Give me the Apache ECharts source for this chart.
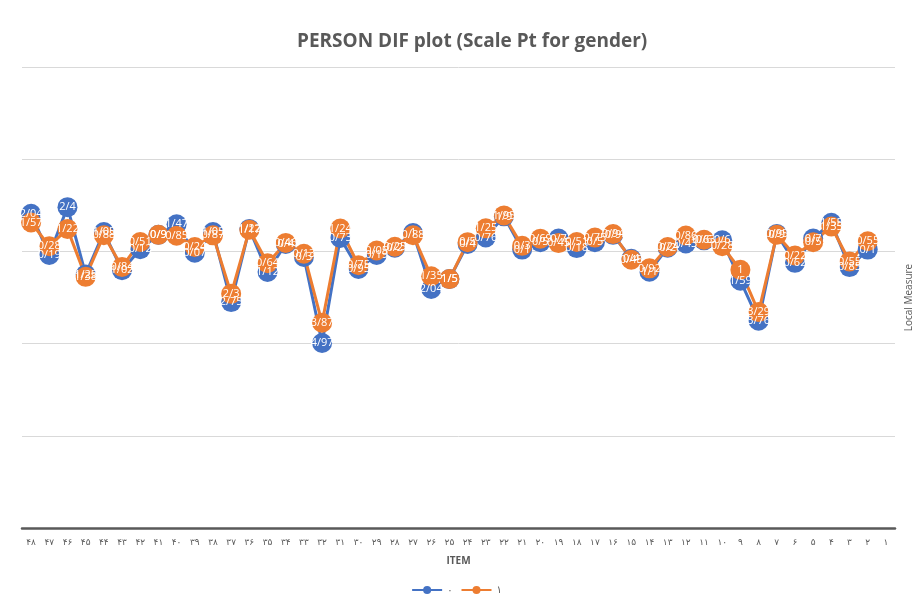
<!DOCTYPE html>
<html lang="en">
<head>
    <meta charset="UTF-8">
    <title>PERSON DIF plot</title>
    <script src="https://cdn.jsdelivr.net/npm/echarts@6/dist/echarts.min.js"></script>
    <style>
        html, body {
            margin: 0;
            height: 100%;
            background: #fff;
        }
    </style>
</head>
<body>
<div id="main" style="width: 913px;height: 604px;"></div>
<script>
    // items 48 -> 1 (Persian digits)
    var items = ['۴۸', '۴۷', '۴۶', '۴۵', '۴۴', '۴۳', '۴۲', '۴۱', '۴۰', '۳۹', '۳۸', '۳۷', '۳۶', '۳۵', '۳۴', '۳۳',
        '۳۲', '۳۱', '۳۰', '۲۹', '۲۸', '۲۷', '۲۶', '۲۵', '۲۴', '۲۳', '۲۲', '۲۱', '۲۰', '۱۹', '۱۸', '۱۷',
        '۱۶', '۱۵', '۱۴', '۱۳', '۱۲', '۱۱', '۱۰', '۹', '۸', '۷', '۶', '۵', '۴', '۳', '۲', '۱'];

    // group 0
    var group0 = [2.04, -0.19, 2.4, -1.25, 1.05, -1.02, 0.12, 0.9, 1.47, -0.07, 1.05, -2.75, 1.22, -1.12, 0.4, -0.3,
        -4.97, 0.73, -0.95, -0.19, 0.2, 1.0, -2.04, -1.5, 0.4, 0.76, 1.9, 0.1, 0.5, 0.7, 0.18, 0.5,
        0.9, -0.4, -1.1, 0.2, 0.43, 0.6, 0.6, -1.59, -3.76, 0.95, -0.62, 0.7, 1.55, -0.85, 0.1, null];

    // group 1
    var group1 = [1.57, 0.28, 1.22, -1.38, 0.88, -0.84, 0.51, 0.9, 0.85, 0.24, 0.87, -2.3, 1.17, -0.64, 0.46, -0.13,
        -3.87, 1.24, -0.75, 0.05, 0.25, 0.88, -1.35, -1.5, 0.5, 1.25, 1.95, 0.3, 0.69, 0.45, 0.51, 0.75,
        0.94, -0.45, -0.92, 0.24, 0.86, 0.63, 0.28, -1, -3.29, 0.9, -0.22, 0.5, 1.35, -0.55, 0.55, null];

    // Excel-style label: "/" as decimal separator
    function fmt(p) {
        return String(Math.abs(p.value)).replace('.', '/');
    }

    var myChart = echarts.init(document.getElementById('main'));

    var option = {
        animation: false,
        title: {
            text: 'PERSON DIF plot (Scale Pt for gender)',
            left: 292,
            top: 27,
            textStyle: {
                fontFamily: 'Open Sans',
                fontSize: 19,
                fontWeight: 'bold',
                color: '#595959'
            }
        },
        legend: {
            bottom: 4,
            itemWidth: 30,
            itemHeight: 10,
            textStyle: {fontFamily: 'DejaVu Sans', fontSize: 10, color: '#595959'},
            data: ['۰', '۱']
        },
        grid: {
            left: 22,
            right: 18,
            top: 67,
            bottom: 76,
            outerBoundsMode: 'none'
        },
        xAxis: {
            type: 'category',
            data: items,
            boundaryGap: true,
            name: 'ITEM',
            nameLocation: 'middle',
            nameGap: 28,
            nameTextStyle: {fontFamily: 'Open Sans', fontSize: 10, fontWeight: 'bold', color: '#595959'},
            axisLine: {onZero: false, lineStyle: {color: '#595959', width: 2.5}},
            axisTick: {show: false},
            axisLabel: {interval: 0, fontFamily: 'DejaVu Sans', fontSize: 9, color: '#595959', margin: 10}
        },
        yAxis: {
            type: 'value',
            position: 'right',
            min: -15,
            max: 10,
            interval: 5,
            name: 'Local Measure',
            nameLocation: 'middle',
            nameGap: 9,
            nameRotate: 90,
            nameTextStyle: {fontFamily: 'Open Sans', fontSize: 10, color: '#595959'},
            axisLine: {show: false},
            axisTick: {show: false},
            axisLabel: {show: false},
            splitLine: {lineStyle: {color: '#d9d9d9', width: 1}}
        },
        series: [
            {
                name: '۰',
                type: 'line',
                data: group0,
                symbol: 'circle',
                symbolSize: 20,
                color: '#4472C4',
                lineStyle: {width: 3},
                label: {
                    show: true,
                    position: 'inside',
                    color: '#fff',
                    fontFamily: 'Open Sans',
                    fontSize: 11,
                    formatter: fmt
                }
            },
            {
                name: '۱',
                type: 'line',
                data: group1,
                symbol: 'circle',
                symbolSize: 20,
                color: '#ED7D31',
                lineStyle: {width: 3},
                label: {
                    show: true,
                    position: 'inside',
                    color: '#fff',
                    fontFamily: 'Open Sans',
                    fontSize: 11,
                    formatter: fmt
                }
            }
        ]
    };

    myChart.setOption(option);
</script>
</body>
</html>
